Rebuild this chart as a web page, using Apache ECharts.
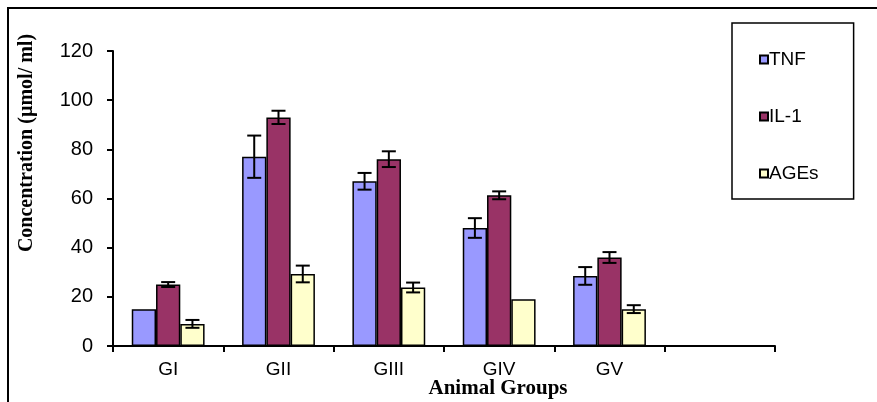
<!DOCTYPE html>
<html>
<head>
<meta charset="utf-8">
<script src="https://cdn.jsdelivr.net/npm/echarts@6/dist/echarts.min.js"></script>
<style>
html,body{margin:0;padding:0;background:#fff;}
#c{width:877px;height:402px;}
</style>
</head>
<body>
<div id="c"></div>
<script>
var categories = ['GI', 'GII', 'GIII', 'GIV', 'GV', ''];
var seriesNames = ['TNF', 'IL-1', 'AGEs'];
var tnf  = [15, 77, 67, 48, 28.5, null];
var il1  = [25, 93, 76, 61.3, 36, null];
var ages = [9, 29.3, 23.8, 19, 15, null];
var tnfErr  = [0, 8.6, 3.4, 4, 3.6, null];
var il1Err  = [1, 2.7, 3.2, 1.6, 2.2, null];
var agesErr = [1.6, 3.4, 2, 0, 1.6, null];
var yTicks = { min: 0, max: 120, interval: 20 };

var colors = ['#9999FF', '#993366', '#FFFFCC'];
var values = [tnf, il1, ages];
var errs = [tnfErr, il1Err, agesErr];
var GAP = 0.34;

var errData = [];
for (var s = 0; s < 3; s++) {
  for (var i = 0; i < categories.length; i++) {
    if (values[s][i] != null && errs[s][i] > 0) {
      errData.push([i, values[s][i], errs[s][i], s]);
    }
  }
}

var series = [];
for (var s2 = 0; s2 < 3; s2++) {
  series.push({
    name: seriesNames[s2],
    type: 'bar',
    data: values[s2],
    barGap: '0%',
    barCategoryGap: (GAP * 100) + '%',
    itemStyle: { color: colors[s2], borderColor: '#000', borderWidth: 1.5 },
    emphasis: { disabled: true },
    animation: false
  });
}
series.push({
  type: 'custom',
  data: errData,
  z: 10,
  animation: false,
  renderItem: function (params, api) {
    var ci = api.value(0), v = api.value(1), e = api.value(2), s = api.value(3);
    var band = api.size([1, 0])[0];
    var groupW = band * (1 - GAP);
    var barW = groupW / 3;
    var c = api.coord([ci, v]);
    var x = c[0] - groupW / 2 + barW * (s + 0.5);
    var top = api.coord([ci, v + e])[1];
    var bot = api.coord([ci, v - e])[1];
    var hw = 7;
    var st = { stroke: '#000', lineWidth: 2 };
    return {
      type: 'group',
      children: [
        { type: 'line', shape: { x1: x, y1: top, x2: x, y2: bot }, style: st },
        { type: 'line', shape: { x1: x - hw, y1: top, x2: x + hw, y2: top }, style: st },
        { type: 'line', shape: { x1: x - hw, y1: bot, x2: x + hw, y2: bot }, style: st }
      ]
    };
  }
});

var chart = echarts.init(document.getElementById('c'));
chart.setOption({
  backgroundColor: '#fff',
  animation: false,
  grid: { left: 113, right: 102, top: 51, bottom: 56, containLabel: false },
  legend: {
    data: seriesNames,
    orient: 'vertical',
    left: 732,
    top: 23,
    itemWidth: 8,
    itemHeight: 8,
    itemGap: 38,
    padding: [27, 35, 16, 27],
    borderColor: '#000',
    borderWidth: 1.5,
    borderRadius: 0,
    icon: 'rect',
    selectedMode: false,
    textStyle: { fontFamily: 'Liberation Sans, Arial', fontSize: 19, color: '#000', padding: [0, 0, 0, -4] }
  },
  xAxis: {
    type: 'category',
    data: categories,
    axisLine: { lineStyle: { color: '#000', width: 2 } },
    axisTick: { show: true, length: 6, lineStyle: { color: '#000', width: 2 } },
    axisLabel: { fontFamily: 'Liberation Sans, Arial', fontSize: 19, color: '#000', margin: 14 }
  },
  yAxis: {
    type: 'value',
    min: yTicks.min,
    max: yTicks.max,
    interval: yTicks.interval,
    axisLine: { show: true, lineStyle: { color: '#000', width: 2 } },
    axisTick: { show: true, length: 6, lineStyle: { color: '#000', width: 2 } },
    splitLine: { show: false },
    axisLabel: { fontFamily: 'Liberation Sans, Arial', fontSize: 20, color: '#000', margin: 20 }
  },
  graphic: [
    { type: 'rect', silent: true, shape: { x: 8, y: 8, width: 920, height: 420 }, style: { fill: 'none', stroke: '#000', lineWidth: 2 }, z: 100 },
    { type: 'text', silent: true, x: 498, y: 389, style: { text: 'Animal Groups', font: 'bold 21px "Liberation Serif", "Times New Roman", serif', fill: '#000', align: 'center', verticalAlign: 'middle' } },
    { type: 'text', silent: true, x: 27, y: 143, rotation: Math.PI / 2, style: { text: 'Concentration (µmol/ ml)', font: 'bold 20px "Liberation Serif", "Times New Roman", serif', fill: '#000', align: 'center', verticalAlign: 'middle' } }
  ],
  series: series
});
</script>
</body>
</html>
